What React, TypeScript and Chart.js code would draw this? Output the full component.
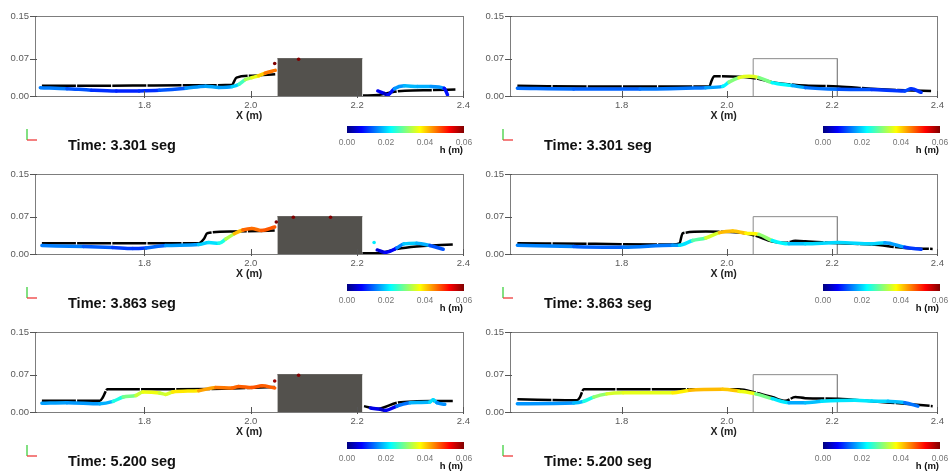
import React, { useEffect, useRef } from "react";
import { Chart, registerables } from "chart.js";
Chart.register(...registerables);

type Pt = [number, number];

// ---- axes / legend values ----
const xTicks = [1.8, 2.0, 2.2, 2.4];
const yTicks = [0, 0.07, 0.15];
const xMax = 2.4;
const yMax = 0.15;
const hTicks = [0, 0.02, 0.04, 0.06];
const times = ["3.301", "3.863", "5.200"];
const obstacleX = [2.05, 2.21];
const obstacleH = 0.07;

// ---- Row 1 (t = 3.301) left: with solid obstacle ----
const r1LBlackA: Pt[] = [[1.607,0.019],[1.70,0.0192],[1.778,0.0195],[1.88,0.020],[1.965,0.021],[1.968,0.026],[1.973,0.0345],[2.002,0.038],[2.046,0.041]];
const r1LBlackB: Pt[] = [[2.211,0.001],[2.24,0.002],[2.265,0.007],[2.29,0.010],[2.34,0.011],[2.385,0.012]];
const r1LColorA: Pt[] = [[1.604,0.0157],[1.654,0.0138],[1.70,0.011],[1.747,0.0094],[1.79,0.0096],[1.828,0.0107],[1.878,0.0144],[1.915,0.0185],[1.94,0.016],[1.965,0.0176],[1.978,0.022],[1.99,0.0308],[2.002,0.0345],[2.015,0.038],[2.027,0.043],[2.046,0.048]];
const r1LColorB: Pt[] = [[2.239,0.0094],[2.252,0.0044],[2.258,0.0025],[2.27,0.0138],[2.289,0.019],[2.314,0.0176],[2.339,0.018],[2.364,0.0144],[2.37,0.0025]];
const r1LDots: Pt[] = [[2.045,0.061],[2.09,0.069]];
// ---- Row 1 right: outline obstacle ----
const r1RBlack: Pt[] = [[1.602,0.019],[1.772,0.0176],[1.967,0.018],[1.97,0.026],[1.976,0.037],[2.023,0.036],[2.055,0.033],[2.086,0.026],[2.118,0.022],[2.149,0.0195],[2.212,0.018],[2.275,0.0138],[2.338,0.0107],[2.388,0.0094]];
const r1RColor: Pt[] = [[1.602,0.0144],[1.709,0.0132],[1.835,0.0132],[1.96,0.0157],[1.992,0.018],[2.004,0.026],[2.023,0.0345],[2.042,0.037],[2.061,0.0345],[2.086,0.025],[2.124,0.0195],[2.149,0.0157],[2.212,0.0126],[2.275,0.012],[2.338,0.0094],[2.35,0.0138],[2.369,0.0069]];

// ---- Row 2 (t = 3.863) ----
const r2LBlackA: Pt[] = [[1.607,0.020],[1.75,0.020],[1.902,0.020],[1.912,0.0285],[1.918,0.039],[1.965,0.042],[2.045,0.044]];
const r2LBlackB: Pt[] = [[2.21,0.0013],[2.238,0.0013],[2.275,0.0095],[2.312,0.014],[2.38,0.018]];
const r2LColorA: Pt[] = [[1.607,0.0158],[1.685,0.0139],[1.74,0.012],[1.778,0.0101],[1.803,0.0114],[1.84,0.0158],[1.902,0.0177],[1.921,0.0215],[1.94,0.020],[1.953,0.028],[1.969,0.038],[1.985,0.045],[2.002,0.048],[2.02,0.044],[2.045,0.0506]];
const r2LColorB: Pt[] = [[2.238,0.0076],[2.253,0.003],[2.275,0.0114],[2.288,0.019],[2.312,0.020],[2.337,0.0158],[2.362,0.0089]];
const r2LDots: Pt[] = [[2.048,0.060],[2.08,0.069],[2.15,0.069],[2.232,0.0215]];
const r2RBlack: Pt[] = [[1.602,0.020],[1.75,0.019],[1.897,0.0177],[1.91,0.020],[1.916,0.039],[1.96,0.042],[2.023,0.0405],[2.055,0.034],[2.086,0.0234],[2.111,0.0209],[2.13,0.0247],[2.149,0.024],[2.212,0.020],[2.275,0.0177],[2.338,0.0114],[2.391,0.0095]];
const r2RColor: Pt[] = [[1.602,0.0165],[1.709,0.0139],[1.803,0.0127],[1.897,0.0165],[1.91,0.0165],[1.935,0.0253],[1.96,0.030],[1.986,0.040],[2.011,0.043],[2.036,0.039],[2.061,0.0367],[2.086,0.0253],[2.118,0.019],[2.149,0.019],[2.212,0.0215],[2.275,0.019],[2.3,0.021],[2.338,0.0127],[2.369,0.0089]];

// ---- Row 3 (t = 5.200) ----
const r3LBlackA: Pt[] = [[1.607,0.021],[1.716,0.021],[1.722,0.028],[1.73,0.0425],[1.84,0.0425],[1.965,0.044],[2.045,0.047]];
const r3LBlackB: Pt[] = [[2.213,0.011],[2.238,0.006],[2.275,0.0175],[2.312,0.020],[2.38,0.0206]];
const r3LColorA: Pt[] = [[1.607,0.0163],[1.654,0.0175],[1.716,0.0156],[1.741,0.020],[1.76,0.028],[1.784,0.031],[1.797,0.0375],[1.828,0.0356],[1.84,0.033],[1.853,0.0375],[1.902,0.040],[1.934,0.046],[1.965,0.045],[1.977,0.048],[2.002,0.046],[2.021,0.049],[2.045,0.045]];
const r3LColorB: Pt[] = [[2.225,0.0075],[2.244,0.005],[2.253,0.003],[2.275,0.011],[2.3,0.0175],[2.337,0.0188],[2.343,0.023],[2.35,0.0175],[2.365,0.0144]];
const r3LDots: Pt[] = [[2.045,0.058],[2.09,0.069]];
const r3RBlack: Pt[] = [[1.602,0.0238],[1.715,0.022],[1.721,0.028],[1.728,0.0425],[1.897,0.0425],[2.023,0.0425],[2.055,0.036],[2.086,0.028],[2.111,0.021],[2.13,0.028],[2.149,0.026],[2.212,0.025],[2.275,0.020],[2.338,0.0156],[2.391,0.011]];
const r3RColor: Pt[] = [[1.602,0.0156],[1.709,0.0169],[1.728,0.020],[1.747,0.028],[1.772,0.034],[1.803,0.036],[1.897,0.036],[1.929,0.0406],[1.992,0.0425],[2.023,0.039],[2.055,0.034],[2.086,0.025],[2.118,0.0175],[2.149,0.0175],[2.18,0.020],[2.243,0.022],[2.275,0.0206],[2.306,0.020],[2.338,0.0175],[2.363,0.011]];

type PanelCfg = {
  row: number;
  side: "L" | "R";
  time: string;
  black: Pt[][];
  color: Pt[][];
  dots: Pt[];
};

const panels: PanelCfg[] = [
  { row: 0, side: "L", time: times[0], black: [r1LBlackA, r1LBlackB], color: [r1LColorA, r1LColorB], dots: r1LDots },
  { row: 0, side: "R", time: times[0], black: [r1RBlack], color: [r1RColor], dots: [] },
  { row: 1, side: "L", time: times[1], black: [r2LBlackA, r2LBlackB], color: [r2LColorA, r2LColorB], dots: r2LDots },
  { row: 1, side: "R", time: times[1], black: [r2RBlack], color: [r2RColor], dots: [] },
  { row: 2, side: "L", time: times[2], black: [r3LBlackA, r3LBlackB], color: [r3LColorA, r3LColorB], dots: r3LDots },
  { row: 2, side: "R", time: times[2], black: [r3RBlack], color: [r3RColor], dots: [] },
];

const W = 474;
const H = 158;
const FONT = "'Liberation Sans', Arial, sans-serif";
const hMax = hTicks[hTicks.length - 1];

function jet(t: number): string {
  const c = (v: number) => Math.max(0, Math.min(1, v));
  const tt = c(t);
  const r = c(1.5 - Math.abs(4 * tt - 3));
  const g = c(1.5 - Math.abs(4 * tt - 2));
  const b = c(1.5 - Math.abs(4 * tt - 1));
  return `rgb(${Math.round(r * 255)},${Math.round(g * 255)},${Math.round(b * 255)})`;
}

const toXY = (pts: Pt[]) => pts.map(([x, y]) => ({ x, y }));

const decorPlugin = {
  id: "decor",
  afterDatasetsDraw(chart: any) {
    const { ctx, chartArea: a, scales } = chart;
    ctx.save();
    ctx.strokeStyle = "#7d7d7d";
    ctx.lineWidth = 1;
    ctx.strokeRect(Math.round(a.left) + 0.5, Math.round(a.top) + 0.5, Math.round(a.right - a.left), Math.round(a.bottom - a.top));
    ctx.strokeStyle = "#555";
    ctx.beginPath();
    for (const v of yTicks) {
      const py = Math.round(scales.y.getPixelForValue(v)) + 0.5;
      ctx.moveTo(a.left - 5, py);
      ctx.lineTo(a.left + 2, py);
    }
    for (const v of xTicks) {
      const px = Math.round(scales.x.getPixelForValue(v)) + 0.5;
      ctx.moveTo(px, a.bottom - 5);
      ctx.lineTo(px, a.bottom + 2);
    }
    ctx.stroke();
    ctx.restore();
  },
  afterDraw(chart: any, _args: any, opts: any) {
    const ctx = chart.ctx as CanvasRenderingContext2D;
    const dx = opts.dx || 0;
    ctx.save();
    // orientation glyph
    ctx.lineWidth = 1.3;
    ctx.strokeStyle = "#3fcf3f";
    ctx.beginPath();
    ctx.moveTo(27 + dx, 129);
    ctx.lineTo(27 + dx, 140);
    ctx.stroke();
    ctx.strokeStyle = "#ee3b3b";
    ctx.beginPath();
    ctx.moveTo(27 + dx, 140);
    ctx.lineTo(37 + dx, 140);
    ctx.stroke();
    // time label
    ctx.fillStyle = "#111";
    ctx.font = `bold 15px ${FONT}`;
    ctx.textAlign = "left";
    ctx.textBaseline = "alphabetic";
    ctx.fillText(`Time: ${opts.time} seg`, 68 + dx, 150, 108);
    // colorbar
    const x0 = 347 + dx, w = 117, y0 = 126, h = 7;
    const grad = ctx.createLinearGradient(x0, 0, x0 + w, 0);
    for (let i = 0; i <= 40; i++) grad.addColorStop(i / 40, jet(i / 40));
    ctx.fillStyle = grad;
    ctx.fillRect(x0, y0, w, h);
    ctx.fillStyle = "#777";
    ctx.font = `8.5px ${FONT}`;
    ctx.textAlign = "center";
    hTicks.forEach((v, i) => {
      ctx.fillText(v.toFixed(2), x0 + (i / (hTicks.length - 1)) * w, 144.5);
    });
    ctx.fillStyle = "#111";
    ctx.font = `bold 9.5px ${FONT}`;
    ctx.textAlign = "right";
    ctx.fillText("h (m)", x0 + w - 1, 153);
    ctx.restore();
  },
};

function buildConfig(cfg: PanelCfg): any {
  const left = cfg.side === "L";
  const yW = left ? 35 : 36;
  const xMin = left ? 1.594 : 1.588;
  const datasets: any[] = [];
  if (left) {
    datasets.push({
      data: toXY([[obstacleX[0], obstacleH], [obstacleX[1], obstacleH]]),
      showLine: true, fill: "origin", backgroundColor: "#53514d", borderColor: "#53514d",
      borderWidth: 1, pointRadius: 0, tension: 0, order: 1,
    });
  } else {
    datasets.push({
      data: toXY([[obstacleX[0], 0], [obstacleX[0], obstacleH], [obstacleX[1], obstacleH], [obstacleX[1], 0]]),
      showLine: true, fill: false, borderColor: "#8a8a8a", borderWidth: 1, pointRadius: 0, tension: 0, order: 5,
    });
  }
  cfg.black.forEach((pts) =>
    datasets.push({
      data: toXY(pts), showLine: true, borderColor: "#000", borderWidth: 2.5, borderDash: [34, 1.2],
      pointRadius: 0, cubicInterpolationMode: "monotone", order: 4,
    })
  );
  cfg.color.forEach((pts) =>
    datasets.push({
      data: toXY(pts), showLine: true, borderWidth: 3.5, pointRadius: 0, borderColor: "#1e7fff",
      borderCapStyle: "round", borderJoinStyle: "round",
      cubicInterpolationMode: "monotone", order: 3,
      segment: { borderColor: (c: any) => jet((c.p0.parsed.y + c.p1.parsed.y) / 2 / hMax) },
    })
  );
  if (cfg.dots.length) {
    datasets.push({
      data: toXY(cfg.dots), showLine: false, pointRadius: 1.8, pointBorderWidth: 0,
      pointBackgroundColor: cfg.dots.map(([, y]) => jet(y / hMax)), order: 0,
    });
  }
  const tickFont = { family: FONT, size: 9.5 };
  return {
    type: "scatter",
    data: { datasets },
    plugins: [decorPlugin],
    options: {
      animation: false,
      responsive: false,
      devicePixelRatio: 1,
      layout: { padding: { left: 0, right: 8, top: 16, bottom: 36 } },
      plugins: {
        legend: { display: false },
        tooltip: { enabled: false },
        decor: { time: cfg.time, dx: left ? 0 : 2 },
      },
      scales: {
        x: {
          type: "linear", min: xMin, max: xMax,
          afterBuildTicks: (s: any) => { s.ticks = xTicks.map((v) => ({ value: v })); },
          afterFit: (s: any) => { s.height = 26; },
          grid: { display: false, drawTicks: false },
          border: { display: false },
          ticks: { padding: 4, color: "#5a5a5a", font: tickFont, maxRotation: 0, autoSkip: false, callback: (v: any) => Number(v).toFixed(1) },
          title: { display: true, text: "X (m)", color: "#222", font: { family: FONT, size: 10.5, weight: "bold" }, padding: 0 },
        },
        y: {
          type: "linear", min: 0, max: yMax,
          afterBuildTicks: (s: any) => { s.ticks = yTicks.map((v) => ({ value: v })); },
          afterFit: (s: any) => { s.width = yW; },
          grid: { display: false, drawTicks: false },
          border: { display: false },
          ticks: { padding: 6, color: "#5a5a5a", font: tickFont, autoSkip: false, callback: (v: any) => Number(v).toFixed(2) },
        },
      },
    },
  };
}

function Panel({ cfg }: { cfg: PanelCfg }) {
  const ref = useRef<HTMLCanvasElement>(null);
  useEffect(() => {
    const chart = new Chart(ref.current as HTMLCanvasElement, buildConfig(cfg));
    return () => chart.destroy();
  }, [cfg]);
  return (
    <canvas
      ref={ref}
      width={W}
      height={H}
      style={{ position: "absolute", left: cfg.side === "L" ? 0 : W, top: cfg.row * H, width: W, height: H }}
    />
  );
}

export default function App() {
  return (
    <div style={{ position: "fixed", left: 0, top: 0, width: 948, height: 471, overflow: "hidden", background: "#fff" }}>
      {panels.map((p, i) => (
        <Panel key={i} cfg={p} />
      ))}
    </div>
  );
}
